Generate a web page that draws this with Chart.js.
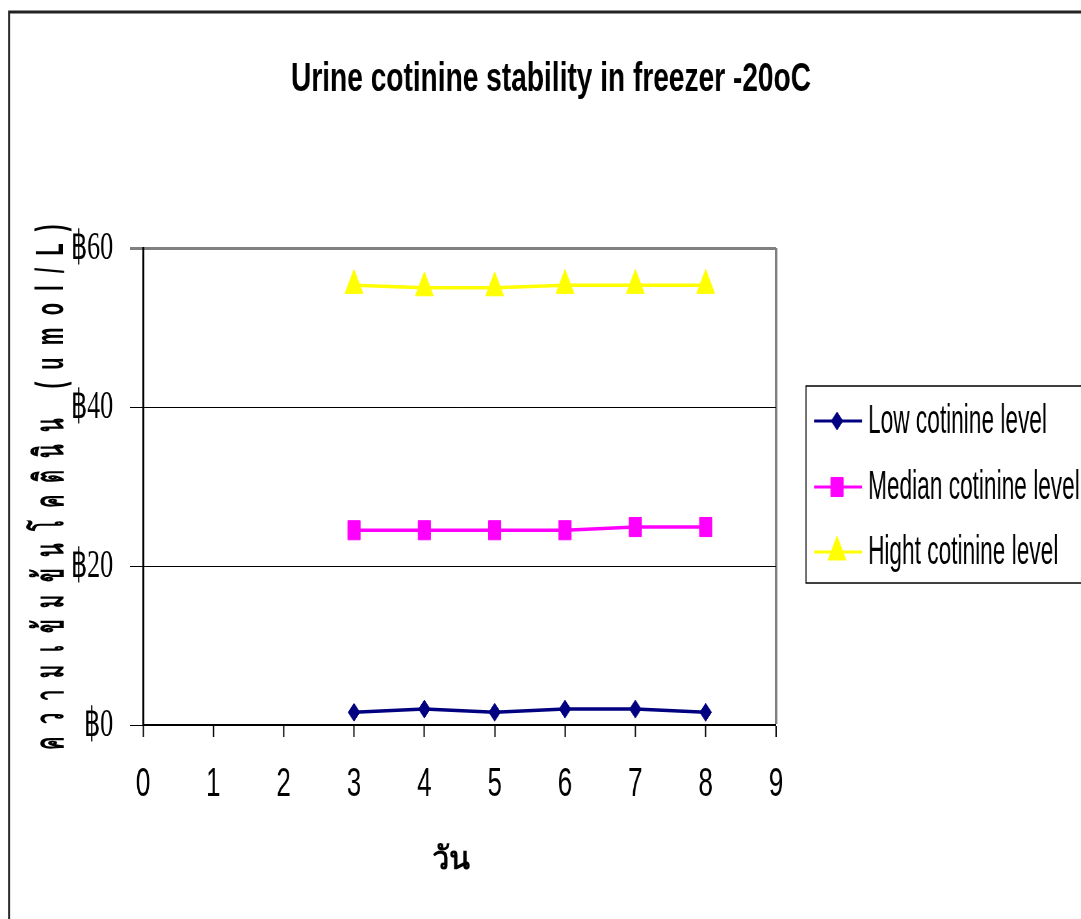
<!DOCTYPE html>
<html>
<head>
<meta charset="utf-8">
<title>Urine cotinine stability in freezer -20oC</title>
<script src="https://cdn.jsdelivr.net/npm/chart.js@4.4.0/dist/chart.umd.min.js"></script>
<style>
    html, body { margin: 0; padding: 0; background: #fff; overflow: hidden; }
    /* the reference is drawn narrow, so the whole canvas is squeezed sideways */
    #wrap { position: absolute; left: 0; top: 0; width: 1663px; height: 919px; transform: scaleX(0.65); transform-origin: 0 0; }
</style>
</head>
<body>
<div id="wrap"><canvas id="cotinineChart"></canvas></div>
<script>
const days = [3, 4, 5, 6, 7, 8]
const lowLevel = [1.6, 2.0, 1.6, 2.0, 2.0, 1.6]
const medianLevel = [24.5, 24.5, 24.5, 24.5, 24.9, 24.9]
const highLevel = [55.3, 55.0, 55.0, 55.3, 55.3, 55.3]

const xTicks = [0, 1, 2, 3, 4, 5, 6, 7, 8, 9]
const yTicks = [0, 20, 40, 60]

const seriesNames = ['Low cotinine level', 'Median cotinine level', 'Hight cotinine level']
const chartTitle = 'Urine cotinine stability in freezer -20oC'
const xTitle = 'วัน'
const yTitle = 'ความเข้มข้นโคตินิน (umol/L)'

const K = 0.65   // horizontal squeeze of #wrap
const px = x => x / K   // picture x -> canvas x

const SANS = "'Liberation Sans', Arial, sans-serif"
const SERIF = "'Liberation Serif', 'Times New Roman', serif"

function toPoints(values) {
    return days.map((d, i) => ({ x: d, y: values[i] }))
}

// -------------titles, legend box, outer frame-----------
const decorPlugin = {
    id: 'decor',
    afterDraw(chart) {
        const ctx = chart.ctx
        ctx.save()

        // outer frame
        ctx.strokeStyle = '#222'
        ctx.lineWidth = 3
        ctx.strokeRect(px(9), 12, 2000, 1000)

        // main title, kept at its own width
        ctx.fillStyle = '#000'
        ctx.font = "bold 41px " + SANS
        ctx.textAlign = 'center'
        ctx.textBaseline = 'middle'
        let w = ctx.measureText(chartTitle).width
        ctx.save()
        ctx.translate(px(551), 80)
        ctx.scale(px(520) / w, 1)
        ctx.fillText(chartTitle, 0, 0)
        ctx.restore()

        // x axis title
        ctx.font = "bold 32px " + SANS
        w = ctx.measureText(xTitle).width
        ctx.save()
        ctx.translate(px(451), 860)
        ctx.scale(px(38) / w, 1)
        ctx.fillText(xTitle, 0, 0)
        ctx.restore()

        // y axis title, spread out along the axis
        ctx.font = "bold 40px " + SANS
        const seg = new Intl.Segmenter('th', { granularity: 'grapheme' })
        const parts = Array.from(seg.segment(yTitle), s => s.segment)
        const squeeze = 0.5
        const widths = parts.map(p => ctx.measureText(p).width * squeeze)
        const total = 525
        const gap = (total - widths.reduce((a, b) => a + b, 0)) / (parts.length - 1)
        ctx.save()
        ctx.translate(px(52), 487)
        ctx.rotate(-Math.PI / 2)
        ctx.scale(squeeze, 1 / K)
        ctx.textAlign = 'left'
        let pos = -total / 2
        parts.forEach((p, i) => {
            ctx.fillText(p, pos / squeeze, 0)
            pos += widths[i] + gap
        })
        ctx.restore()

        // legend
        ctx.strokeStyle = '#000'
        ctx.lineWidth = 1.5
        ctx.strokeRect(px(806), 386, 2000, 197)
        const rows = [421, 487, 552]
        ctx.font = "40px " + SANS
        ctx.textAlign = 'left'
        const fit = px(179) / ctx.measureText(seriesNames[0]).width
        chart.data.datasets.forEach((ds, i) => {
            const y = rows[i]
            ctx.strokeStyle = ds.borderColor
            ctx.lineWidth = 3
            ctx.beginPath()
            ctx.moveTo(px(814), y)
            ctx.lineTo(px(862), y)
            ctx.stroke()
            ctx.fillStyle = ds.backgroundColor
            ctx.lineWidth = 1
            Chart.helpers.drawPoint(ctx, { pointStyle: ds.pointStyle, radius: ds.pointRadius, rotation: 0, borderWidth: 1 }, px(837), y)
            ctx.fillStyle = '#000'
            ctx.save()
            ctx.translate(px(868), y)
            ctx.scale(fit, 1)
            ctx.fillText(ds.label, 0, 1)
            ctx.restore()
        })

        ctx.restore()
    }
}

const data = {
    datasets: [{
        label: seriesNames[0],
        data: toPoints(lowLevel),
        borderColor: '#000080',
        backgroundColor: '#000080',
        pointStyle: 'rectRot',
        pointRadius: 9
    }, {
        label: seriesNames[1],
        data: toPoints(medianLevel),
        borderColor: '#FF00FF',
        backgroundColor: '#FF00FF',
        pointStyle: 'rect',
        pointRadius: 13.5
    }, {
        label: seriesNames[2],
        data: toPoints(highLevel),
        borderColor: '#FFFF00',
        backgroundColor: '#FFFF00',
        pointStyle: 'triangle',
        pointRadius: 16
    }]
}

const ctx = document.getElementById('cotinineChart').getContext('2d')
const cotinineChart = new Chart(ctx, {
    type: 'line',
    data: data,
    options: {
        responsive: true,
        maintainAspectRatio: false,
        animation: false,
        layout: { padding: { top: 248, right: 1663 - px(776), left: 0, bottom: 0 } },
        elements: {
            line: { borderWidth: 3.5, tension: 0 },
            point: { borderWidth: 1, hoverRadius: 12 }
        },
        plugins: {
            legend: { display: false },
            title: { display: false },
            tooltip: { enabled: false }
        },
        scales: {
            x: {
                type: 'linear',
                min: xTicks[0],
                max: xTicks[xTicks.length - 1],
                afterBuildTicks: scale => { scale.ticks = xTicks.map(v => ({ value: v })) },
                afterFit: scale => { scale.height = 919 - 725 },
                border: { color: '#000', width: 2 },
                grid: {
                    color: c => c.tick && c.tick.value === 9 ? '#808080' : 'rgba(0,0,0,0)',
                    lineWidth: c => c.tick && c.tick.value === 9 ? 4 : 1,
                    tickColor: '#000',
                    tickWidth: 2,
                    tickLength: 12
                },
                ticks: {
                    color: '#000',
                    font: { family: SANS, size: 40 },
                    padding: 24,
                    maxRotation: 0
                }
            },
            y: {
                min: yTicks[0],
                max: yTicks[yTicks.length - 1],
                afterBuildTicks: scale => { scale.ticks = yTicks.map(v => ({ value: v })) },
                afterFit: scale => { scale.width = px(143) },
                border: { color: '#000', width: 3 },
                grid: {
                    color: c => c.tick && c.tick.value === 60 ? '#808080' : '#000',
                    lineWidth: c => c.tick && c.tick.value === 60 ? 3 : 1,
                    tickLength: 20
                },
                ticks: {
                    color: '#000',
                    font: { family: SERIF, size: 40 },
                    padding: 26,
                    callback: v => '฿' + v
                }
            }
        }
    },
    plugins: [decorPlugin]
})
</script>
</body>
</html>
